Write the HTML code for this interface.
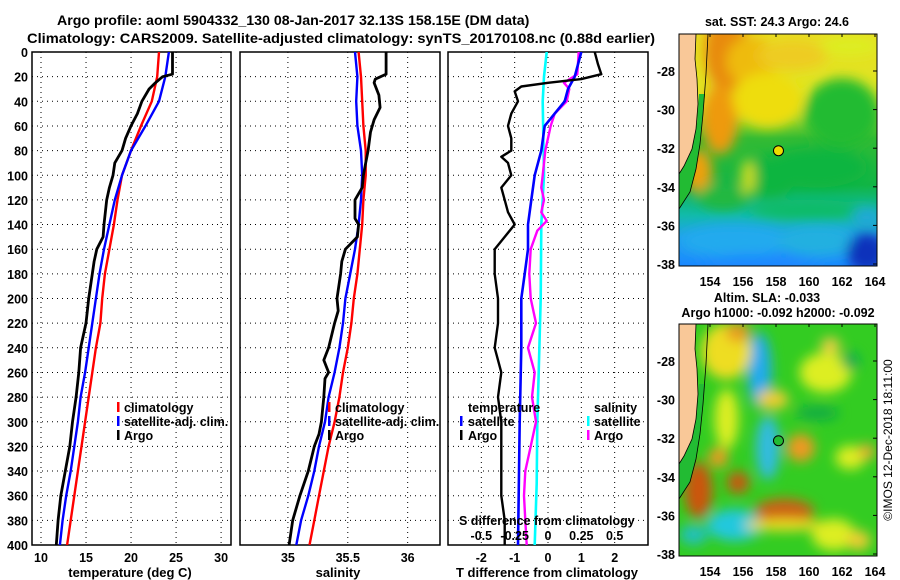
<!DOCTYPE html>
<html><head><meta charset="utf-8">
<style>
html,body{margin:0;padding:0;background:#fff;}
svg{display:block;font-family:"Liberation Sans",sans-serif;font-weight:bold;}
</style></head>
<body>
<svg id="fig" width="900" height="580" viewBox="0 0 900 580" xmlns="http://www.w3.org/2000/svg">
<defs>
<clipPath id="c1"><rect x="32" y="52" width="199" height="493"/></clipPath>
<clipPath id="c2"><rect x="240" y="52" width="200" height="493"/></clipPath>
<clipPath id="c3"><rect x="448" y="52" width="200" height="493"/></clipPath>
<clipPath id="m1"><rect x="679" y="34" width="198" height="232"/></clipPath>
<clipPath id="m2"><rect x="679" y="324" width="198" height="232"/></clipPath>
<filter id="bl" x="-50%" y="-50%" width="200%" height="200%"><feGaussianBlur stdDeviation="6"/></filter>
<linearGradient id="sstg" x1="0" y1="0" x2="0" y2="1">
<stop offset="0" stop-color="#e8dd22"/><stop offset="0.3" stop-color="#dde822"/><stop offset="0.45" stop-color="#33bb33"/>
<stop offset="0.65" stop-color="#11b545"/><stop offset="0.78" stop-color="#11bbaa"/><stop offset="0.88" stop-color="#22a0ee"/><stop offset="1" stop-color="#1a88ff"/>
</linearGradient>
</defs>
<text x="57" y="25" font-size="14.2">Argo profile: aoml 5904332_130 08-Jan-2017 32.13S 158.15E (DM data)</text>
<text x="27" y="43" font-size="14.2" textLength="628" lengthAdjust="spacingAndGlyphs">Climatology: CARS2009. Satellite-adjusted climatology: synTS_20170108.nc (0.88d earlier)</text>
<g id="plots"></g>
<g id="maps"></g>
<text transform="translate(892,440) rotate(-90)" font-size="12" font-weight="normal" text-anchor="middle">©IMOS 12-Dec-2018 18:11:00</text>
</svg>
<script>
// ---- data ----
const depths = [0,20,40,60,80,100,120,140,160,180,200,220,240,260,280,300,320,340,360,380,400];
const tempClim = [23.1,22.9,22.3,21.1,20.0,19.0,18.5,18.1,17.6,17.1,16.8,16.6,16.1,15.7,15.3,14.9,14.5,14.1,13.7,13.3,12.9];
const tempSat  = [24.2,23.8,23.1,21.6,20.0,19.0,18.2,17.6,17.0,16.5,16.1,15.7,15.3,14.9,14.4,14.1,13.7,13.3,12.8,12.4,12.1];
const argoDepths = [0,18,20,25,30,40,50,60,70,80,90,100,110,120,140,150,160,170,180,200,220,240,260,280,300,320,340,360,380,400];
const tempArgo = [24.6,24.6,23.5,22.7,22.0,21.2,20.7,20.0,19.4,19.0,18.2,18.0,17.6,17.3,17.0,16.9,16.2,15.9,15.7,15.3,15.0,14.4,14.2,13.9,13.5,13.2,12.7,12.2,11.9,11.7];
const salClim = [35.59,35.61,35.62,35.63,35.65,35.65,35.63,35.62,35.60,35.58,35.55,35.53,35.50,35.46,35.43,35.39,35.34,35.30,35.26,35.22,35.18];
const salSat  = [35.56,35.58,35.57,35.58,35.61,35.62,35.61,35.59,35.56,35.52,35.48,35.46,35.43,35.39,35.34,35.31,35.26,35.22,35.17,35.11,35.07];
const salArgoDepths = [0,18,22,25,35,45,55,65,80,90,100,110,120,135,140,150,160,170,180,200,210,220,240,250,260,265,280,300,310,320,340,360,380,400];
const salArgo = [35.82,35.82,35.73,35.72,35.76,35.77,35.72,35.69,35.67,35.65,35.63,35.62,35.56,35.56,35.59,35.58,35.48,35.45,35.44,35.41,35.42,35.39,35.34,35.30,35.34,35.31,35.30,35.28,35.26,35.22,35.17,35.10,35.04,35.01];
const dTDepths = [0,10,18,22,25,28,32,40,50,60,70,80,85,90,100,110,120,130,140,150,160,180,200,220,240,260,280,300,320,340,360,380,400];
const dTArgo = [1.4,1.5,1.6,1.0,0,-0.8,-1.0,-0.9,-1.1,-1.2,-1.1,-1.1,-1.4,-1.2,-1.1,-1.4,-1.3,-1.2,-1.0,-1.3,-1.6,-1.6,-1.5,-1.5,-1.6,-1.4,-1.5,-1.4,-1.4,-1.4,-1.4,-1.3,-1.3];
const dTSatDepths = [0,20,30,40,50,60,80,100,120,140,160,180,200,240,300,400];
const dTSat = [1.0,0.8,0.6,0.5,0.2,-0.1,-0.2,-0.4,-0.5,-0.6,-0.6,-0.7,-0.8,-0.8,-0.85,-0.9];
const dSSatDepths = [0,20,40,100,140,200,260,300,350,400];
const dSSat = [-0.01,-0.03,-0.04,-0.03,-0.05,-0.055,-0.07,-0.08,-0.085,-0.1];
const dSArgoDepths = [0,18,25,30,40,50,60,70,80,100,110,120,130,137,145,160,180,200,220,240,260,280,300,320,340,360,380,400];
const dSArgo = [0.23,0.22,0.12,0.16,0.14,0.05,0.02,0.0,-0.02,-0.04,-0.05,-0.03,-0.05,-0.01,-0.08,-0.13,-0.14,-0.13,-0.09,-0.15,-0.1,-0.12,-0.09,-0.13,-0.17,-0.18,-0.17,-0.16];
const depthTicks = [0,20,40,60,80,100,120,140,160,180,200,220,240,260,280,300,320,340,360,380,400];
const tTicks = [10,15,20,25,30];
const sTicks = [35,35.5,36];
const dTTicks = [-2,-1,0,1,2];
const dSTicks = [-0.5,-0.25,0,0.25,0.5];
const latTicks = [-28,-30,-32,-34,-36,-38];
const lonTicks = [154,156,158,160,162,164];
const argoLon = 158.15, argoLat = -32.13;

const NS='http://www.w3.org/2000/svg';
const plots=document.getElementById('plots');
function mk(tag,attrs,parent){const e=document.createElementNS(NS,tag);for(const k in attrs)e.setAttribute(k,attrs[k]);(parent||plots).appendChild(e);return e;}
const yD = d => 52 + d*(493/400);
function lin(d0,d1,r0,r1){return v=>r0+(v-d0)*(r1-r0)/(d1-d0);}
const xT = lin(9,31.1,32,231);
const xS = lin(34.6,36.27,240,440);
const xDT = lin(-3,3,448,648);
const xDS = lin(-0.75,0.75,448,648);

function panel(x0,w,name,clip,vt,xf,tickFmt,showY){
  const g=mk('g',{});
  
  
  depthTicks.forEach(d=>{ if(d>0&&d<400){const l=mk('line',{x1:x0,x2:x0+w,y1:yD(d),y2:yD(d),stroke:'#000','stroke-width':1,'stroke-dasharray':'1,4'},g);
    }
    if(showY){const t=mk('text',{x:x0-4,y:yD(d)+5,'font-size':12.5,'text-anchor':'end'},g);t.textContent=d;
    }});
  vt.forEach(v=>{const l=mk('line',{x1:xf(v),x2:xf(v),y1:52,y2:545,stroke:'#000','stroke-width':1,'stroke-dasharray':'1,4'},g);
    
    const t=mk('text',{x:xf(v),y:562,'font-size':12.5,'text-anchor':'middle'},g);t.textContent=tickFmt(v);
    });
  const r=mk('rect',{x:x0,y:52,width:w,height:493,fill:'none',stroke:'#000','stroke-width':1.5},g);
  
  return g;
}
function line(g,ds,vs,xf,col,sw,clip,name){
  const pts=ds.map((d,i)=>xf(vs[i]).toFixed(1)+','+yD(d).toFixed(1)).join(' ');
  const p=mk('polyline',{points:pts,fill:'none',stroke:col,'stroke-width':sw,'clip-path':'url(#'+clip+')','stroke-linejoin':'round'},g);
  
}
function txt(x,y,s,name,anchor,size){const t=mk('text',{x:x,y:y,'font-size':size||12.5,'text-anchor':anchor||'start'});t.textContent=s;
  return t;}
function bar(x,y,col,name){const r=mk('rect',{x:x,y:y,width:2.5,height:10,fill:col});}

// panel 1
const g1=panel(32,199,'temperature-panel','c1',tTicks,xT,v=>v,true);
line(g1,depths,tempClim,xT,'#f00',2.4,'c1','temp-climatology-line');
line(g1,depths,tempSat,xT,'#00f',2.4,'c1','temp-satellite-line');
line(g1,argoDepths,tempArgo,xT,'#000',2.8,'c1','temp-argo-line');
txt(130,577,'temperature (deg C)','x-axis-title-temperature','middle',13);
bar(117,402,'#f00','legend-swatch-climatology');txt(124,412,'climatology','legend-climatology');
bar(117,416,'#00f','legend-swatch-satellite');txt(124,426,'satellite-adj. clim.','legend-satellite');
bar(117,430,'#000','legend-swatch-argo');txt(124,440,'Argo','legend-argo');
// panel 2
const g2=panel(240,200,'salinity-panel','c2',sTicks,xS,v=>v,false);
line(g2,depths,salClim,xS,'#f00',2.4,'c2','sal-climatology-line');
line(g2,depths,salSat,xS,'#00f',2.4,'c2','sal-satellite-line');
line(g2,salArgoDepths,salArgo,xS,'#000',2.8,'c2','sal-argo-line');
txt(338,577,'salinity','x-axis-title-salinity','middle',13);
bar(328,402,'#f00','legend-swatch-climatology');txt(335,412,'climatology','legend-climatology');
bar(328,416,'#00f','legend-swatch-satellite');txt(335,426,'satellite-adj. clim.','legend-satellite');
bar(328,430,'#000','legend-swatch-argo');txt(335,440,'Argo','legend-argo');
// panel 3
const g3=panel(448,200,'difference-panel','c3',dTTicks,xDT,v=>v,false);
line(g3,dSSatDepths,dSSat,xDS,'#0ff',2.6,'c3','sal-diff-satellite-line');
line(g3,dSArgoDepths,dSArgo,xDS,'#f0f',2.4,'c3','sal-diff-argo-line');
line(g3,dTSatDepths,dTSat,xDT,'#00f',2.6,'c3','temp-diff-satellite-line');
line(g3,dTDepths,dTArgo,xDT,'#000',2.4,'c3','temp-diff-argo-line');
txt(547,577,'T difference from climatology','x-axis-title-tdiff','middle',13);
txt(468,412,'temperature','legend-temperature-header');
bar(460,416,'#00f','legend-swatch-temp-satellite');txt(468,426,'satellite','legend-temp-satellite');
bar(460,430,'#000','legend-swatch-temp-argo');txt(468,440,'Argo','legend-temp-argo');
txt(594,412,'salinity','legend-salinity-header');
bar(587,416,'#0ff','legend-swatch-sal-satellite');txt(594,426,'satellite','legend-sal-satellite');
bar(587,430,'#f0f','legend-swatch-sal-argo');txt(594,440,'Argo','legend-sal-argo');
txt(459,525,'S difference from climatology','s-diff-axis-title','start',12.5);
dSTicks.forEach(v=>txt(xDS(v),540,String(v),'s-diff-tick-label','middle',12.5));

// ---- maps ----
const maps=document.getElementById('maps');
const xLon=lin(154,164,710,875);
function map(y0,clip,name,blobs,base,circFill){
  const g=mk('g',{},maps);
  
  const yLat=lin(-28,-38,y0+37,y0+230);
  const inner=mk('g',{'clip-path':'url(#'+clip+')'},g);
  mk('rect',{x:679,y:y0,width:198,height:232,fill:base},inner);
  const bg=mk('g',{filter:'url(#bl)'},inner);
  blobs.forEach(b=>mk('ellipse',{cx:xLon(b[0]),cy:yLat(b[1]),rx:b[2],ry:b[3],fill:b[4]},bg));
  mk('path',{d:`M679,${y0+175} L690,${y0+158} L696,${y0+135} L700,${y0+110} L703,${y0+80} L705,${y0+60} L699,${y0+60} L697,${y0+90} L692,${y0+115} L684,${y0+132} L679,${y0+140} Z`,fill:'#22bb33'},inner);
  const land=mk('path',{d:`M679,${y0+140} L684,${y0+132} L692,${y0+115} L696,${y0+95} L698,${y0+70} L697,${y0+45} L695,${y0+25} L696,${y0} L679,${y0} Z`,fill:'#f9c898',stroke:'#000','stroke-width':0.8},inner);
  
  mk('path',{d:`M679,${y0+175} L690,${y0+158} L696,${y0+135} L700,${y0+110} L703,${y0+80} L706,${y0+40} L708,${y0}`,fill:'none',stroke:'#000','stroke-width':0.8},inner);
  const c=mk('circle',{cx:xLon(argoLon),cy:yLat(argoLat),r:5,fill:circFill,stroke:'#000','stroke-width':1},g);
  
  const fr=mk('rect',{x:679,y:y0,width:198,height:232,fill:'none',stroke:'#000','stroke-width':1},g);
  
  latTicks.forEach(l=>{const t=mk('text',{x:675,y:yLat(l)+5,'font-size':12.5,'text-anchor':'end'},g);t.textContent=l;
    
    mk('line',{x1:873,x2:877,y1:yLat(l),y2:yLat(l),stroke:'#000'},g);});
  lonTicks.forEach(l=>{const t=mk('text',{x:xLon(l),y:y0+252,'font-size':12.5,'text-anchor':'middle'},g);t.textContent=l;
    
    mk('line',{x1:xLon(l),x2:xLon(l),y1:y0,y2:y0+3,stroke:'#000'},g);});
  return g;
}
const sstBlobs=[
 [155,-27,22,40,'#e88a10'],[154.6,-30.5,18,35,'#ee9a10'],[153.3,-33.2,14,22,'#eea010'],[156.5,-27.5,25,25,'#eebb10'],
 [157.5,-29.5,35,28,'#eedd11'],[159,-27.2,35,15,'#eecc22'],[162.5,-26.7,30,10,'#ddee22'],
 [162,-30.2,38,35,'#22bb33'],[160.5,-33,50,20,'#11b540'],[157.5,-33.5,28,20,'#11b540'],
 [154.8,-34.5,26,14,'#22b840'],[156.3,-33.5,7,18,'#ccdd22'],[160,-35.2,60,10,'#10bb66'],
 [155.5,-36.8,55,16,'#22aaee'],[160.5,-36.8,40,15,'#20b0e0'],[163.5,-37.4,20,20,'#0833bb'],[157,-38,60,10,'#1a88ff'],[163.5,-35.6,15,10,'#22a8d8']];
map(34,'m1','sst-map',sstBlobs,'url(#sstg)','#eedd00');
const slaBlobs=[
 [157,-28.5,12,38,'#22aaee'],[157.5,-32.5,12,32,'#33bbe0'],[155.5,-36.5,28,16,'#22c8dd'],[153,-37,14,10,'#22c0c0'],
 [155,-27.5,25,28,'#eedd22'],[155.7,-26.5,12,10,'#e89a20'],[153.3,-34.7,14,28,'#cc5511'],[155.7,-34.3,11,11,'#cc5511'],
 [158.5,-35.8,30,13,'#cc6015'],[159.5,-32.5,14,14,'#ee9922'],[157.8,-30,16,10,'#eecc33'],[161,-28.6,26,20,'#ddee22'],
 [161.3,-27.2,10,8,'#eecc44'],[162.5,-33,15,12,'#ddee22'],[163.5,-32.7,8,8,'#eeaa33'],[161.5,-37,22,16,'#ddee22'],[163,-37.3,12,10,'#eecc33'],
 [155,-31,12,30,'#ddee22'],[154.5,-33,10,10,'#ee9922'],[160.5,-30.7,22,7,'#11aa44'],[162.5,-28,9,9,'#11aa55'],[158.5,-36.5,40,6,'#eedd22']];
map(324,'m2','sla-map',slaBlobs,'#33cc22','#22bb33');
const mt=(x,y,s,n)=>{const t=mk('text',{x:x,y:y,'font-size':12.5,'text-anchor':'middle'},maps);t.textContent=s;};
mt(777,26,'sat. SST: 24.3 Argo: 24.6','sst-map-title');
mt(767,302,'Altim. SLA: -0.033','sla-map-title');
mt(778,317,'Argo h1000: -0.092 h2000: -0.092','sla-map-subtitle');
</script>
</body></html>
